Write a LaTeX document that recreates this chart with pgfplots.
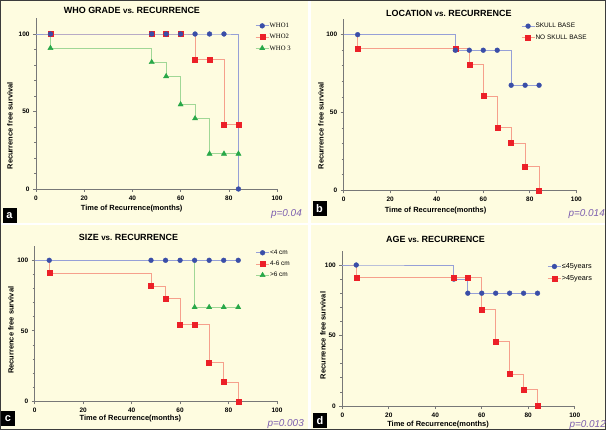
\documentclass[border=0pt]{standalone}
\usepackage{fontspec}
\setmainfont{Liberation Sans}
\newfontfamily\seriffont{Liberation Serif}
\usepackage{pgfplots}
\usepackage{pgfplotstable}
\pgfplotsset{compat=1.18}
\definecolor{cream}{RGB}{254,252,224}
\definecolor{framec}{RGB}{60,60,60}
\definecolor{mblue}{RGB}{58,78,168}
\definecolor{lblue}{RGB}{150,160,215}
\definecolor{mred}{RGB}{236,32,40}
\definecolor{lred}{RGB}{246,160,140}
\definecolor{mgreen}{RGB}{40,168,72}
\definecolor{lgreen}{RGB}{160,215,150}
\definecolor{pval}{RGB}{125,95,175}
\definecolor{axgray}{RGB}{120,120,120}
\newcommand{\vs}{{\fontsize{8}{8}\selectfont vs.}}

\pgfplotstableread{
t   w1   w2    w3
0   100  100   100
6   100  100   90.9
48  100  100   81.8
54  100  100   72.7
60  100  100   54.5
66  100  83.3  45.5
72  100  83.3  22.7
78  100  41.7  22.7
84  0    41.7  22.7
}\tablea
\pgfplotstableread{
t   sb    nsb
0   100   100
6   100   90.9
48  90    90.9
54  90    80.8
60  90    60.6
66  90    40.4
72  67.5  30.3
78  67.5  15.2
84  67.5  0
}\tableb
\pgfplotstableread{
t   s1   s2    s3
0   100  100   100
6   100  90.9  100
48  100  81.8  100
54  100  72.7  100
60  100  54.5  100
66  100  54.5  66.7
72  100  27.3  66.7
78  100  13.6  66.7
84  100  0     66.7
}\tablec
\pgfplotstableread{
t   y    o
0   100  100
6   100  90.9
48  90   90.9
54  80   90.9
60  80   68.2
66  80   45.5
72  80   22.7
78  80   11.4
84  80   0
}\tabled

\pgfplotsset{
 km/.style={
  scale only axis, clip=false,
  axis lines=left, axis line style={-, axgray, line width=0.8bp},
  xmin=0, xmax=100, ymin=0, ymax=110,
  xtick={0,20,...,100}, ytick={0,50,100},
  minor y tick num=4,
  tick align=outside, major tick length=3bp, minor tick length=2bp,
  every tick/.style={axgray, line width=0.6bp},
  tick label style={font=\fontsize{6.5}{7}\selectfont\bfseries},
  /pgf/number format/assume math mode=true,
  every axis title shift=0pt,
  title style={font=\fontsize{9}{10}\selectfont\bfseries, anchor=center, yshift=0pt},
  label style={font=\fontsize{7.5}{9}\selectfont\bfseries},
  xlabel style={anchor=center},
  ylabel style={anchor=center},
  legend cell align=left,
  reverse legend,
  legend style={draw=none, fill=none, inner sep=0pt, anchor=north west,
    font=\fontsize{6.5}{7}\selectfont, row sep=3.7bp,
    nodes={inner sep=0.5bp, text height=5bp, text depth=1.5bp}},
 },
 lineb/.style={const plot, no marks, lblue, line width=0.9bp, forget plot},
 liner/.style={const plot, no marks, lred, line width=0.9bp, forget plot},
 lineg/.style={const plot, no marks, lgreen, line width=0.9bp, forget plot},
 mkb/.style={only marks, mark=*, mark size=2.4bp, mark options={draw=mblue, fill=mblue},
   legend image code/.code={\draw[lblue, line width=0.9bp] (0bp,0bp) -- (13bp,0bp);
     \draw[mark repeat=2, mark phase=2, ##1] plot coordinates {(0bp,0bp) (6.5bp,0bp) (13bp,0bp)};}},
 mkr/.style={only marks, mark=square*, mark size=2.5bp, mark options={draw=mred, fill=mred},
   legend image code/.code={\draw[lred, line width=0.9bp] (0bp,0bp) -- (13bp,0bp);
     \draw[mark repeat=2, mark phase=2, ##1] plot coordinates {(0bp,0bp) (6.5bp,0bp) (13bp,0bp)};}},
 mkg/.style={only marks, mark=triangle*, mark size=3bp, mark options={draw=mgreen, fill=mgreen},
   legend image code/.code={\draw[lgreen, line width=0.9bp] (0bp,0bp) -- (13bp,0bp);
     \draw[mark repeat=2, mark phase=2, ##1] plot coordinates {(0bp,0bp) (6.5bp,0bp) (13bp,0bp)};}},
}

\begin{document}
\begin{tikzpicture}
\useasboundingbox (0bp,0bp) rectangle (606bp,430bp);
\clip (0bp,0bp) rectangle (606bp,430bp);
\fill[white] (0bp,0bp) rectangle (606bp,430bp);
\fill[cream] (1bp,207bp) rectangle (308bp,429bp);
\fill[cream] (311bp,207bp) rectangle (605bp,429bp);
\fill[cream] (1bp,1bp) rectangle (308bp,205bp);
\fill[cream] (311bp,1bp) rectangle (605bp,205bp);
\draw[framec, line width=1bp] (0.5bp,0.5bp) rectangle (605.5bp,429.5bp);

% ---------- panel a ----------
\begin{axis}[km, at={(36bp,241bp)}, anchor=south west, width=241bp, height=170.5bp,
  title={WHO GRADE \vs\ RECURRENCE},
  title style={at={(axis description cs:0.398,1.046)}},
  xlabel={Time of Recurrence(months)},
  xlabel style={at={(axis description cs:0.397,-0.1155)}},
  ylabel={Recurrence free survival},
  ylabel style={at={(axis description cs:-0.108,0.371)}},
  legend style={at={(axis description cs:0.909,0.98)}, font=\seriffont\fontsize{6.7}{7}\selectfont},
]
\addplot[lineg] table[x=t, y=w3] {\tablea};
\addplot[liner] table[x=t, y=w2] {\tablea};
\addplot[lineb] table[x=t, y=w1] {\tablea};
\addplot[mkg, skip coords between index={0}{1}] table[x=t, y=w3] {\tablea};
\addlegendentry{WHO 3}
\addplot[mkr, skip coords between index={0}{1}] table[x=t, y=w2] {\tablea};
\addlegendentry{WHO2}
\addplot[mkb, skip coords between index={0}{1}] table[x=t, y=w1] {\tablea};
\addlegendentry{WHO1}
\end{axis}

% ---------- panel b ----------
\begin{axis}[km, at={(343.7bp,239.7bp)}, anchor=south west, width=232.6bp, height=171.2bp,
  title={LOCATION \vs\ RECURRENCE},
  title style={at={(axis description cs:0.452,1.034)}},
  xlabel={Time of Recurrence(months)},
  xlabel style={at={(axis description cs:0.395,-0.119)}},
  ylabel={Recurrence free survival},
  ylabel style={at={(axis description cs:-0.0976,0.377)}},
  legend style={at={(axis description cs:0.762,0.982)}},
]
\addplot[liner] table[x=t, y=nsb] {\tableb};
\addplot[lineb] table[x=t, y=sb] {\tableb};
\addplot[mkr, skip coords between index={0}{1}] table[x=t, y=nsb] {\tableb};
\addlegendentry{NO SKULL BASE}
\addplot[mkb, skip coords between index={0}{1}] table[x=t, y=sb] {\tableb};
\addlegendentry{SKULL BASE}
\end{axis}

% ---------- panel c ----------
\begin{axis}[km, at={(34.7bp,28.7bp)}, anchor=south west, width=242.3bp, height=155.1bp,
  title={SIZE \vs\ RECURRENCE},
  title style={at={(axis description cs:0.387,1.055)}},
  xlabel={Time of Recurrence(months)},
  xlabel style={at={(axis description cs:0.395,-0.114)}},
  ylabel={Recurrence free survival},
  ylabel style={at={(axis description cs:-0.098,0.458)}},
  legend style={at={(axis description cs:0.911,0.983)}},
]
\addplot[lineg] table[x=t, y=s3] {\tablec};
\addplot[liner] table[x=t, y=s2] {\tablec};
\addplot[lineb] table[x=t, y=s1] {\tablec};
\addplot[mkg, skip coords between index={0}{5}] table[x=t, y=s3] {\tablec};
\addlegendentry{>6 cm}
\addplot[mkr, skip coords between index={0}{1}] table[x=t, y=s2] {\tablec};
\addlegendentry{4-6 cm}
\addplot[mkb, skip coords between index={0}{1}] table[x=t, y=s1] {\tablec};
\addlegendentry{<4 cm}
\end{axis}

% ---------- panel d ----------
\begin{axis}[km, at={(342.3bp,24bp)}, anchor=south west, width=232.4bp, height=155.1bp,
  title={AGE \vs\ RECURRENCE},
  title style={at={(axis description cs:0.401,1.077)}},
  xlabel={Time of Recurrence(months)},
  xlabel style={at={(axis description cs:0.412,-0.1225)}},
  ylabel={Recurrence free survival},
  ylabel style={at={(axis description cs:-0.083,0.4545)}},
  reverse legend=false,
  legend style={at={(axis description cs:0.882,0.925)}, font=\fontsize{7.3}{8}\selectfont, row sep=4.5bp},
]
\addplot[liner] table[x=t, y=o] {\tabled};
\addplot[lineb] table[x=t, y=y] {\tabled};
\addplot[mkb, skip coords between index={0}{1}] table[x=t, y=y] {\tabled};
\addlegendentry{≤45years}
\addplot[mkr, skip coords between index={0}{1}] table[x=t, y=o] {\tabled};
\addlegendentry{>45years}
\end{axis}

% p-values
\node[anchor=east, text=pval, font=\fontsize{10}{10}\selectfont\itshape, inner sep=0] at (302bp,216bp) {p=0.04};
\node[anchor=east, text=pval, font=\fontsize{10}{10}\selectfont\itshape, inner sep=0] at (605bp,216bp) {p=0.014};
\node[anchor=east, text=pval, font=\fontsize{10}{10}\selectfont\itshape, inner sep=0] at (304bp,6bp) {p=0.003};
\node[anchor=east, text=pval, font=\fontsize{10}{10}\selectfont\itshape, inner sep=0] at (606bp,5bp) {p=0.012};

% panel letters
\foreach \lx/\ly/\lt in {9.5/214.5/a, 319.5/221.5/b, 8/11/c, 320/9.5/d}
  \node[fill=black, text=white, font=\fontsize{11}{11}\selectfont\bfseries, inner sep=0,
        minimum width=14bp, minimum height=15bp] at (\lx bp,\ly bp) {\lt};
\end{tikzpicture}
\end{document}
